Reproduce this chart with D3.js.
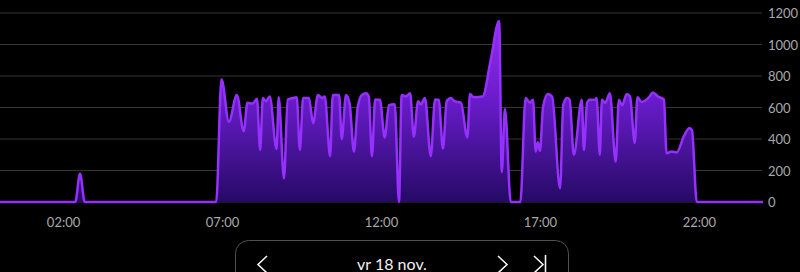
<!DOCTYPE html>
<html>
<head>
<meta charset="utf-8">
<script src="https://cdn.jsdelivr.net/npm/d3@7"></script>
<style>
  html, body { margin: 0; padding: 0; background: #000; }
  svg { display: block; }
</style>
</head>
<body>
<div id="root"></div>
<script>
// power readings over the day (time of reading, watts)
var times = ["00:00","02:22","02:31","02:40","06:48","06:58","07:12","07:27","07:40","07:47",
  "07:57","08:05","08:11","08:16","08:22","08:29","08:42","08:46","08:56","09:03",
  "09:13","09:20","09:26","09:32","09:43","09:51","10:00","10:08","10:13","10:23",
  "10:28","10:40","10:45","10:53","11:00","11:08","11:15","11:23","11:31","11:36",
  "11:42","11:48","11:57","12:06","12:14","12:25","12:33","12:38","12:46","12:54",
  "13:01","13:09","13:14","13:22","13:33","13:41","13:48","13:56","14:03","14:11",
  "14:18","14:30","14:42","14:47","14:54","15:11","15:26","15:42","15:47","15:53","16:04",
  "16:22","16:32","16:40","16:46","16:51","16:55","16:59","17:05","17:14","17:22",
  "17:37","17:43","17:50","17:55","18:03","18:18","18:22","18:28","18:33","18:43",
  "18:46","18:52","18:56","19:02","19:11","19:22","19:28","19:34","19:43","19:49",
  "19:58","20:03","20:11","20:26","20:32","20:42","20:53","20:58","21:08","21:17",
  "21:31","21:41","21:46","21:55","24:00"];
var watts = [0,0,180,0,0,780,510,680,450,630,
  625,655,330,660,640,670,336,665,150,650,
  660,665,330,660,660,500,680,660,670,290,
  680,680,400,680,620,320,600,680,690,670,
  290,650,650,410,615,620,0,680,670,690,
  415,640,620,660,290,650,650,340,640,660,
  640,630,410,685,665,670,900,1150,190,590,0,
  0,660,630,650,320,380,325,605,685,670,
  87,615,660,650,300,650,330,630,650,650,
  660,300,650,630,690,255,650,615,685,670,
  375,665,635,670,695,670,650,310,320,315,
  420,470,455,0,0];
var yTicks = [0, 200, 400, 600, 800, 1000, 1200];
var xTicks = ["02:00", "07:00", "12:00", "17:00", "22:00"];
var dateLabel = "vr 18 nov.";

function toMin(s) {
  var p = s.split(":");
  return +p[0] * 60 + +p[1];
}

var data = times.map(function (t, i) { return { t: toMin(t), v: watts[i] }; });

var width = 800, height = 272;
var svg = d3.select("#root").append("svg")
  .attr("width", width)
  .attr("height", height);

var x = d3.scaleLinear().domain([0, 1440]).range([0, 763]);
var y = d3.scaleLinear().domain([0, 1200]).range([202, 13]);

var defs = svg.append("defs");
var grad = defs.append("linearGradient")
  .attr("id", "fillGrad")
  .attr("gradientUnits", "userSpaceOnUse")
  .attr("x1", 0).attr("x2", 0)
  .attr("y1", y(1200)).attr("y2", y(0));
grad.append("stop").attr("offset", "0%").attr("stop-color", "#9a30f0");
grad.append("stop").attr("offset", "45%").attr("stop-color", "#6a1ccc");
grad.append("stop").attr("offset", "100%").attr("stop-color", "#260a66");

// gridlines + right axis labels
var grid = svg.append("g");
grid.selectAll("line").data(yTicks).enter().append("line")
  .attr("x1", 0).attr("x2", 762)
  .attr("y1", function (d) { return y(d); })
  .attr("y2", function (d) { return y(d); })
  .attr("stroke", "#353535")
  .attr("stroke-width", 1);

svg.append("g").selectAll("text").data(yTicks).enter().append("text")
  .attr("x", 768)
  .attr("y", function (d) { return y(d) + 5; })
  .attr("fill", "#a8a8a8")
  .attr("font-family", "Lato, sans-serif")
  .attr("font-size", 13)
  .text(function (d) { return d; });

svg.append("g").selectAll("text").data(xTicks).enter().append("text")
  .attr("x", function (d) { return x(toMin(d)); })
  .attr("y", 227)
  .attr("text-anchor", "middle")
  .attr("fill", "#a8a8a8")
  .attr("font-family", "Lato, sans-serif")
  .attr("font-size", 13)
  .text(function (d) { return d; });

var area = d3.area()
  .x(function (d) { return x(d.t); })
  .y0(y(0))
  .y1(function (d) { return y(d.v); })
  .curve(d3.curveMonotoneX);

var line = d3.line()
  .x(function (d) { return x(d.t); })
  .y(function (d) { return y(d.v); })
  .curve(d3.curveMonotoneX);

svg.append("path")
  .datum(data)
  .attr("d", area)
  .attr("fill", "url(#fillGrad)");

svg.append("path")
  .datum(data)
  .attr("d", line)
  .attr("fill", "none")
  .attr("stroke", "#9630ff")
  .attr("stroke-width", 2.5)
  .attr("stroke-linejoin", "round");

// date navigation box
var nav = svg.append("g");
nav.append("rect")
  .attr("x", 235.5).attr("y", 240.5)
  .attr("width", 333).attr("height", 50)
  .attr("rx", 13)
  .attr("fill", "#000")
  .attr("stroke", "#505050")
  .attr("stroke-width", 1);

nav.append("text")
  .attr("x", 392).attr("y", 270)
  .attr("text-anchor", "middle")
  .attr("fill", "#f2f2f2")
  .attr("font-family", "Lato, sans-serif")
  .attr("font-size", 16)
  .text(dateLabel);

var chev = nav.append("g")
  .attr("fill", "none")
  .attr("stroke", "#f2f2f2")
  .attr("stroke-width", 1.6);
chev.append("path").attr("d", "M267,256 L258,264.5 L267,273");
chev.append("path").attr("d", "M498,256 L507,264.5 L498,273");
chev.append("path").attr("d", "M534,256 L543,264.5 L534,273");
chev.append("path").attr("d", "M545.5,255 L545.5,273");
</script>
</body>
</html>
